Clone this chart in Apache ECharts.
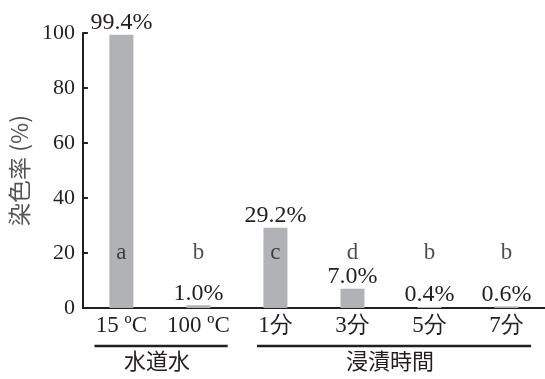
<!DOCTYPE html>
<html>
<head>
<meta charset="utf-8">
<script src="https://cdn.jsdelivr.net/npm/echarts@6/dist/echarts.min.js"></script>
<style>
  html, body { margin: 0; padding: 0; background: #fff; }
  #chart { width: 545px; height: 379px; }
</style>
</head>
<body>
<div id="chart"></div>
<script>
// Dyeing rate by treatment condition
const categories = ['15 ºC', '100 ºC', '1分', '3分', '5分', '7分'];
const dyeRate = [99.4, 1.0, 29.2, 7.0, 0.4, 0.6];
const sigLetters = ['a', 'b', 'c', 'd', 'b', 'b'];
const letterLevel = [20, 20, 20, 20, 20, 20];
const groupNames = ['水道水', '浸漬時間'];
const groupFirst = [0, 2];
const groupLast = [1, 5];
const yTicks = { min: 0, max: 100, interval: 20 };

const serif = '"Liberation Serif", "Times New Roman", serif';
const cjk = '"Noto Sans CJK JP", sans-serif';
const ink = '#231f20';

// how far each bracket reaches past its outer bars, in band widths
const bracketReach = [[0.35, 0.38], [0.24, 0.32]];

const chart = echarts.init(document.getElementById('chart'), null, { renderer: 'canvas' });

chart.setOption({
  animation: false,
  grid: { left: 76, right: 0, top: 33, bottom: 71, containLabel: false },
  xAxis: {
    type: 'category',
    data: categories,
    axisLine: { lineStyle: { color: ink, width: 2 } },
    axisTick: { show: false },
    axisLabel: { interval: 0, color: ink, fontFamily: serif, fontSize: 23, margin: 6 }
  },
  yAxis: {
    type: 'value',
    min: yTicks.min,
    max: yTicks.max,
    interval: yTicks.interval,
    name: '染色率 (%)',
    nameLocation: 'middle',
    nameGap: 33,
    nameRotate: 90,
    nameTextStyle: { color: '#555', fontFamily: cjk, fontSize: 23 },
    axisLine: { show: true, lineStyle: { color: ink, width: 2 } },
    axisTick: { show: true, inside: true, length: 5, lineStyle: { color: ink, width: 2 } },
    axisLabel: { color: ink, fontFamily: serif, fontSize: 22, margin: 8 },
    splitLine: { show: false }
  },
  series: [
    {
      type: 'bar',
      data: dyeRate,
      barWidth: 24,
      itemStyle: { color: '#b1b2b6' },
      label: {
        show: true,
        position: 'top',
        distance: 0,
        color: ink,
        fontFamily: serif,
        fontSize: 24,
        formatter: p => p.value.toFixed(1) + '%'
      }
    },
    {
      type: 'scatter',
      data: letterLevel,
      symbolSize: 0,
      silent: true,
      label: {
        show: true,
        position: 'inside',
        color: ink,
        fontFamily: serif,
        fontSize: 23,
        formatter: p => sigLetters[p.dataIndex]
      }
    }
  ]
});

// Group brackets under the category labels
function drawGroups() {
  const band = chart.convertToPixel({ xAxisIndex: 0 }, 1) - chart.convertToPixel({ xAxisIndex: 0 }, 0);
  const lineY = 346;
  const elements = [];
  groupNames.forEach((name, i) => {
    const x0 = chart.convertToPixel({ xAxisIndex: 0 }, groupFirst[i]);
    const x1 = chart.convertToPixel({ xAxisIndex: 0 }, groupLast[i]);
    const left = x0 - band * bracketReach[i][0];
    const right = x1 + band * bracketReach[i][1];
    elements.push({
      type: 'line',
      shape: { x1: left, y1: lineY, x2: right, y2: lineY },
      style: { stroke: ink, lineWidth: 2.5 }
    });
    elements.push({
      type: 'text',
      x: (left + right) / 2 - 4,
      y: lineY + 4,
      style: {
        text: name,
        fill: ink,
        font: '22px ' + cjk,
        textAlign: 'center',
        textVerticalAlign: 'top'
      }
    });
  });
  chart.setOption({ graphic: elements });
}
drawGroups();
</script>
</body>
</html>
